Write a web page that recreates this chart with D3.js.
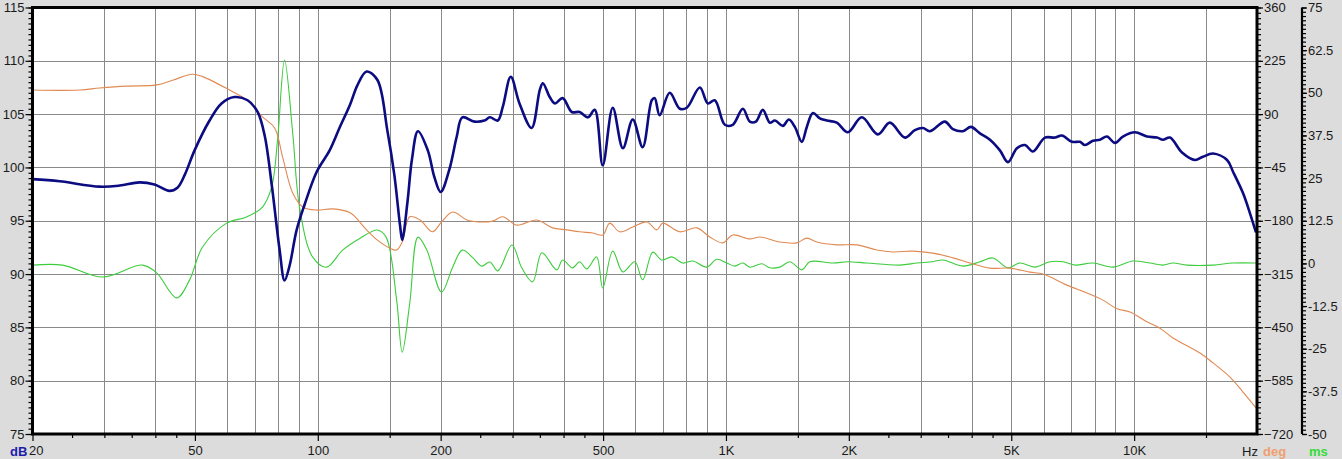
<!DOCTYPE html>
<html>
<head>
<meta charset="utf-8">
<script src="https://cdn.jsdelivr.net/npm/d3@7"></script>
<style>
  html, body { margin: 0; padding: 0; background: #dcdcdc; }
  svg { display: block; }
  text { font-family: "Liberation Sans", Arial, sans-serif; }
</style>
</head>
<body>
<svg id="chart" width="1342" height="459"></svg>
<script>
// ---------- DATA ----------
// SPL (dB) – blue curve
const splFreq = [20,23.3,29.2,32.7,36.6,39.8,43.3,45.3,47.2,49.9,54.3,58.1,62.5,67.3,71.2,74.1,77.1,80.6,82.9,85.3,88.7,92.8,99.4,106.9,113,120,125,131.7,140,148,154,159,161,166,170,176,186,193,200,210,219,226,242,256,264,276,284,297,312,334,350,356,370,381,398,419,438,459,477,499,528,559,591,625,658,669,688,728,771,802,863,903,939,994,1039,1100,1144,1184,1231,1281,1318,1378,1426,1475,1534,1578,1633,1698,1767,1869,1989,2152,2356,2521,2744,2903,3037,3158,3439,3597,3806,3982,4190,4433,4690,4906,5162,5402,5650,6046,6397,6654,7042,7368,7577,7926,8246,8580,8974,9388,10046,10749,11373,11764,12240,13100,14094,14744,15604,16890,17470,18480,19224,19886];
const splDb = [98.9,98.7,98.2,98.3,98.6,98.4,97.8,98.1,99.3,101.6,104.4,106.0,106.6,106.3,105.2,103.0,98.4,92.3,89.4,90.8,94.1,96.5,99.6,101.6,103.7,105.9,107.7,109.0,108.2,103.5,99.3,94.6,93.2,96.9,100.7,103.4,101.6,99.1,97.7,99.8,102.9,104.7,104.3,104.4,104.7,104.4,105.7,108.5,106.0,103.7,107.3,107.9,106.6,106.0,106.5,105.2,105.2,104.7,105.4,100.2,105.6,101.8,104.5,101.9,106.3,106.5,104.9,107.0,105.5,105.6,107.5,106.0,106.3,104.0,104.0,105.5,104.3,104.3,105.4,104.2,104.4,103.9,104.5,103.8,102.4,103.8,105.1,104.6,104.4,104.2,103.3,104.7,103.1,104.2,102.8,103.5,103.7,103.4,104.3,103.6,103.4,103.8,103.2,102.6,101.6,100.5,101.8,102.1,101.5,102.8,102.8,103.0,102.4,102.4,102.1,102.5,102.6,102.9,102.3,102.9,103.3,102.9,102.8,102.6,102.8,101.4,100.7,101.0,101.3,100.7,99.6,97.6,95.7,93.9];

// Phase (deg) – orange curve
const phaseFreq = [20,26.1,29.2,34.0,40.3,44.1,49.3,52.2,60.8,66.9,73.2,78.4,82.0,86.8,91.8,99.4,108.7,120,131.7,140,150,156,161,168,178,191,201,214,232,249,268,284,307,344,376,407,438,472,499,519,549,591,640,677,700,771,848,913,982,1039,1144,1211,1355,1491,1578,1670,1869,2092,2342,2563,2870,3213,3597,3960,4433,4962,5554,5978,6845,7662,8387,9078,9768,10749,11568,12450,14498,15604,17172,18902,19886];
const phaseDeg = [151,151,156,161,164,176,191,185,151,126,83,55,-19,-110,-145,-153,-150,-160,-203,-229,-249,-254,-234,-170,-178,-208,-183,-158,-178,-183,-181,-170,-191,-178,-198,-203,-208,-211,-216,-186,-208,-196,-183,-203,-186,-208,-198,-221,-236,-216,-226,-221,-234,-236,-224,-234,-241,-241,-254,-259,-257,-262,-274,-287,-300,-300,-310,-315,-343,-363,-381,-403,-411,-436,-452,-477,-515,-540,-576,-626,-654];

// Group delay (ms) – green curve
const gdFreq = [20,23.7,29.7,37.2,40.3,45.1,48.5,52.2,59.8,66.9,73.2,77.1,79.7,82.9,86.8,90.2,97.1,105.1,115,127,140,147,156,161,168,176,185,201,214,226,240,252,264,276,299,316,336,354,385,398,421,438,456,482,499,528,559,598,625,662,696,737,784,829,897,950,1005,1051,1100,1144,1225,1281,1355,1434,1534,1605,1827,1989,2214,2667,2937,3213,3400,3806,4190,4508,4906,5250,5716,6220,6693,7161,7926,8874,9934,10934,11764,12450,13474,15604,17470,19886];
const gdMs = [-0.5,-0.5,-4.0,-0.5,-2.8,-10.1,-4.9,4.8,11.8,13.6,16.5,22.4,36.2,59.6,38.2,16.5,1.9,-1.1,3.9,7.4,9.8,7.7,-10.7,-26.0,-11.6,7.7,3.9,-8.4,-1.1,3.9,1.6,-0.8,0.4,-2.2,5.4,-1.3,-5.4,3.1,-1.9,1.0,-1.3,0.5,-1.6,1.9,-7.2,3.6,-2.5,0.5,-4.8,3.3,1.0,1.9,0.1,0.7,-1.1,1.2,0.1,-0.8,0.1,-1.1,-0.1,-1.3,-1.1,0.5,-1.9,0.5,0.1,0.5,0.1,-0.5,0.1,0.5,1.0,-0.8,0.5,1.6,-1.3,0.1,-1.1,0.5,0.5,-0.5,0.1,-1.1,0.7,0.1,-0.5,0.1,-0.5,-0.5,0.1,0.1];

// Axis ticks
const dbTicks = [75,80,85,90,95,100,105,110,115];
const degTicks = [-720,-585,-450,-315,-180,-45,90,225,360];
const msTicks = [-50,-37.5,-25,-12.5,0,12.5,25,37.5,50,62.5,75];
const freqLabels = [20,50,100,200,500,1000,2000,5000,10000];
const freqLabelText = ["20","50","100","200","500","1K","2K","5K","10K"];
const freqMinorTicks = [25,30,35,40,45,150,250,300,350,400,450,1500,2500,3000,3500,4000,4500,15000];
const freqGrid = [30,40,50,60,70,80,90,100,150,200,300,400,500,600,700,800,900,1000,1500,2000,3000,4000,5000,6000,7000,8000,9000,10000,15000];

// ---------- LAYOUT ----------
const L = 32.5, R = 1257, T = 7.5, B = 434;
const svg = d3.select("#chart");

const x = d3.scaleLog().domain([20, 20000]).range([L, R]);
const yDb = d3.scaleLinear().domain([75, 115]).range([B, T]);
const yDeg = d3.scaleLinear().domain([-720, 360]).range([B, T]);
const yMs = d3.scaleLinear().domain([-50, 75]).range([B, T]);

// background
svg.append("rect").attr("width", 1342).attr("height", 459).attr("fill", "#dcdcdc");
svg.append("rect").attr("x", L).attr("y", T).attr("width", R - L).attr("height", B - T).attr("fill", "#ffffff");

// grid
const grid = svg.append("g").attr("stroke", "#8a8a8a").attr("stroke-width", 1).attr("shape-rendering", "crispEdges");
grid.selectAll("line.v").data(freqGrid).join("line")
  .attr("x1", d => Math.round(x(d)) + 0.5).attr("x2", d => Math.round(x(d)) + 0.5)
  .attr("y1", T).attr("y2", B);
grid.selectAll("line.h").data(dbTicks).join("line")
  .attr("x1", L).attr("x2", R)
  .attr("y1", d => Math.round(yDb(d)) + 0.5).attr("y2", d => Math.round(yDb(d)) + 0.5);

// clip
svg.append("clipPath").attr("id", "clip").append("rect")
  .attr("x", L).attr("y", T).attr("width", R - L).attr("height", B - T);
const plot = svg.append("g").attr("clip-path", "url(#clip)");

const mkLine = (ys) => d3.line().x(d => x(d[0])).y(d => ys(d[1])).curve(d3.curveCatmullRom.alpha(0.5));

plot.append("path").datum(d3.zip(gdFreq, gdMs))
  .attr("d", mkLine(yMs)).attr("fill", "none").attr("stroke", "#3ccc3c").attr("stroke-width", 1.1);
plot.append("path").datum(d3.zip(phaseFreq, phaseDeg))
  .attr("d", mkLine(yDeg)).attr("fill", "none").attr("stroke", "#e08a52").attr("stroke-width", 1.1);
plot.append("path").datum(d3.zip(splFreq, splDb))
  .attr("d", mkLine(yDb)).attr("fill", "none").attr("stroke", "#0b0b82").attr("stroke-width", 2.6)
  .attr("stroke-linejoin", "round");

// frame
svg.append("rect").attr("x", L).attr("y", T).attr("width", R - L).attr("height", B - T)
  .attr("fill", "none").attr("stroke", "#000").attr("stroke-width", 3);

function styleAxis(g) {
  g.select(".domain").remove();
  g.selectAll(".tick line").attr("stroke", "#000").attr("stroke-width", 1.2);
  g.selectAll(".tick text").attr("fill", "#1a1a1a").attr("font-size", 13)
    .attr("font-family", "Liberation Sans, Arial, sans-serif");
}

// left dB axis
svg.append("g").attr("transform", `translate(${L},0)`)
  .call(d3.axisLeft(yDb).tickValues(d3.range(75, 115.01, 0.5)).tickSize(4).tickFormat(""))
  .call(styleAxis);
svg.append("g").attr("transform", `translate(${L},0)`)
  .call(d3.axisLeft(yDb).tickValues(dbTicks).tickSize(7).tickPadding(1))
  .call(styleAxis);

// right deg axis
svg.append("g").attr("transform", `translate(${R},0)`)
  .call(d3.axisRight(yDeg).tickValues(d3.range(-720, 360.01, 13.5)).tickSize(4).tickFormat(""))
  .call(styleAxis);
svg.append("g").attr("transform", `translate(${R},0)`)
  .call(d3.axisRight(yDeg).tickValues(degTicks).tickSize(6).tickPadding(1))
  .call(styleAxis);

// ms axis
const MSX = 1302;
svg.append("line").attr("x1", MSX).attr("x2", MSX).attr("y1", T).attr("y2", B)
  .attr("stroke", "#000").attr("stroke-width", 2.2);
svg.append("g").attr("transform", `translate(${MSX},0)`)
  .call(d3.axisRight(yMs).tickValues(d3.range(-50, 75.01, 1.25)).tickSize(4).tickFormat(""))
  .call(styleAxis);
svg.append("g").attr("transform", `translate(${MSX},0)`)
  .call(d3.axisRight(yMs).tickValues(msTicks).tickSize(5).tickPadding(1).tickFormat(d => String(d)))
  .call(styleAxis);

// bottom axis
svg.append("g").attr("transform", `translate(0,${B})`)
  .call(d3.axisBottom(x).tickValues(freqMinorTicks).tickSize(4).tickFormat(""))
  .call(styleAxis);
const bx = svg.append("g").attr("transform", `translate(0,${B})`)
  .call(d3.axisBottom(x).tickValues(freqLabels).tickSize(7).tickPadding(5)
    .tickFormat((d, i) => freqLabelText[i]))
  .call(styleAxis);
bx.selectAll(".tick text").filter(d => d === 20).attr("text-anchor", "start").attr("x", -4);

// unit labels
const unit = (t, xx, col, bold) => svg.append("text").attr("x", xx).attr("y", 456)
  .attr("font-size", 13).attr("fill", col).attr("font-weight", bold ? "bold" : "normal").text(t);
unit("dB", 10, "#1c1caa", true);
unit("Hz", 1242, "#1a1a1a", false);
unit("deg", 1263, "#f0a070", true);
unit("ms", 1309, "#33dd33", true);
</script>
</body>
</html>
